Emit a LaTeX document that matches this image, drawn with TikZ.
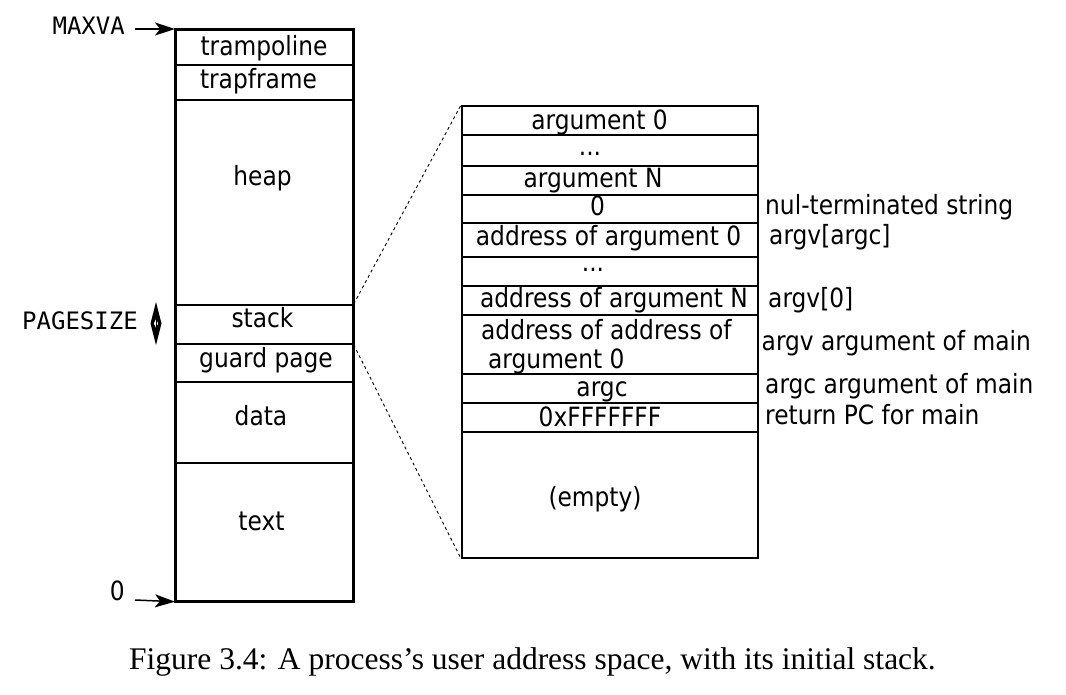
\documentclass[tikz,border=0pt]{standalone}
\usepackage{fontspec}
\usetikzlibrary{arrows.meta}
\newfontfamily\dv{DejaVu Sans}[FakeStretch=0.88]
\newfontfamily\dvm{DejaVu Sans Mono}
\newfontfamily\capf{Liberation Serif}
\begin{document}
\begin{tikzpicture}[x=1pt,y=-1pt,
  cell/.style={draw, line width=1.7pt, inner sep=0pt, anchor=north west},
  lbl/.style={font=\dv\fontsize{26.5}{30}\selectfont, inner sep=0pt, anchor=base},
  side/.style={font=\dv\fontsize{26.5}{30}\selectfont, inner sep=0pt, anchor=base west},
  mono/.style={font=\dvm\fontsize{24}{27}\selectfont, inner sep=0pt, anchor=base east},
  arr/.style={line width=1.5pt, >={Stealth[length=20pt,width=13pt,inset=5pt]}, ->},
  zoomline/.style={line width=0.9pt, dash pattern=on 3pt off 3pt}]
\useasboundingbox (0,0) rectangle (1066,694);
% left column
\node[cell, minimum width=177pt, minimum height=35pt] (tramp) at (175,29) {};
\node[cell, minimum width=177pt, minimum height=35pt] (trapf) at (175,64) {};
\node[cell, minimum width=177pt, minimum height=205pt] (heap) at (175,99) {};
\node[cell, minimum width=177pt, minimum height=39pt] (stack) at (175,304) {};
\node[cell, minimum width=177pt, minimum height=38pt] (guard) at (175,343) {};
\node[cell, minimum width=177pt, minimum height=81pt] (data) at (175,381) {};
\node[cell, minimum width=177pt, minimum height=138pt] (textseg) at (175,462) {};
\draw[line width=2.2pt] (tramp.north west) rectangle (textseg.south east);
\node[lbl] (ttramp) at (264,55) {trampoline};
\node[lbl] (ttrapf) at (258.5,88) {trapframe};
\node[lbl] (theap) at (262.5,185) {heap};
\node[lbl] (tstack) at (262.5,327) {stack};
\node[lbl] (tguard) at (266,367.5) {guard page};
\node[lbl] (tdata) at (261,425) {data};
\node[lbl] (ttext) at (261.5,530.5) {text};
% left annotations
\node[mono] (maxva) at (125,34.3) {MAXVA};
\node[font=\dv\fontsize{26.5}{30}\selectfont, inner sep=0pt, anchor=base east] (zero0) at (125,600) {0};
\node[mono] (pagesize) at (138,329.3) {PAGESIZE};
\coordinate (maxtail) at (135,29);
\coordinate (zerotail) at (135,600);
\draw[arr] (maxtail) -- (tramp.north west);
\draw[arr] (zerotail) -- (textseg.south west);
% PAGESIZE double-headed marker
\fill[even odd rule] (156,302) -- (161.5,323.5) -- (156,345) -- (150.5,323.5) -- cycle
  (156,319) -- (158.3,323.5) -- (156,328) -- (153.7,323.5) -- cycle;
\draw[line width=0.7pt] (156,319) -- (156,328);
% right box
\node[cell, minimum width=296pt, minimum height=29pt] (a0) at (461,105) {};
\node[cell, minimum width=296pt, minimum height=31pt] (dots1) at (461,134) {};
\node[cell, minimum width=296pt, minimum height=29pt] (aN) at (461,165) {};
\node[cell, minimum width=296pt, minimum height=28pt] (zero) at (461,194) {};
\node[cell, minimum width=296pt, minimum height=34pt] (adr0) at (461,222) {};
\node[cell, minimum width=296pt, minimum height=29pt] (dots2) at (461,256) {};
\node[cell, minimum width=296pt, minimum height=29pt] (adrN) at (461,285) {};
\node[cell, minimum width=296pt, minimum height=59pt] (adradr) at (461,314) {};
\node[cell, minimum width=296pt, minimum height=29pt] (argc) at (461,373) {};
\node[cell, minimum width=296pt, minimum height=29pt] (ret) at (461,402) {};
\node[cell, minimum width=296pt, minimum height=126pt] (empty) at (461,431) {};
\node[lbl] (ta0) at (599.5,129.3) {argument 0};
\node[lbl] (tdots1) at (590,155) {...};
\node[lbl] (taN) at (593,187.7) {argument N};
\node[lbl] (tzero) at (597.5,215.7) {0};
\node[lbl] (tadr0) at (608.5,245.3) {address of argument 0};
\node[lbl] (tdots2) at (593,271.7) {...};
\node[lbl] (tadrN) at (614,307.5) {address of argument N};
\node[side] (tadradr1) at (481,339.3) {address of address of};
\node[side] (tadradr2) at (488,368.3) {argument 0};
\node[lbl] (targc) at (602,396.7) {argc};
\node[lbl] (tret) at (600,426.5) {0xFFFFFFF};
\node[lbl] (tempty) at (595,506.7) {(empty)};
% side labels
\node[side] (snul) at (765,214) {nul-terminated string};
\node[side] (sargc) at (769,244) {argv[argc]};
\node[side] (sargv0) at (768,307.3) {argv[0]};
\node[side] (sargv) at (761.5,350) {argv argument of main};
\node[side] (sargcm) at (765,393.3) {argc argument of main};
\node[side] (spc) at (765,424) {return PC for main};
% zoom lines
\draw[zoomline] (stack.north east) -- (a0.north west);
\draw[zoomline] (stack.south east) -- (empty.south west);
% caption
\node[font=\capf\fontsize{31.5}{34}\selectfont, inner sep=0pt, anchor=base] (caption) at (532.5,669.3) {Figure 3.4: A process’s user address space, with its initial stack.};
\end{tikzpicture}
\end{document}
